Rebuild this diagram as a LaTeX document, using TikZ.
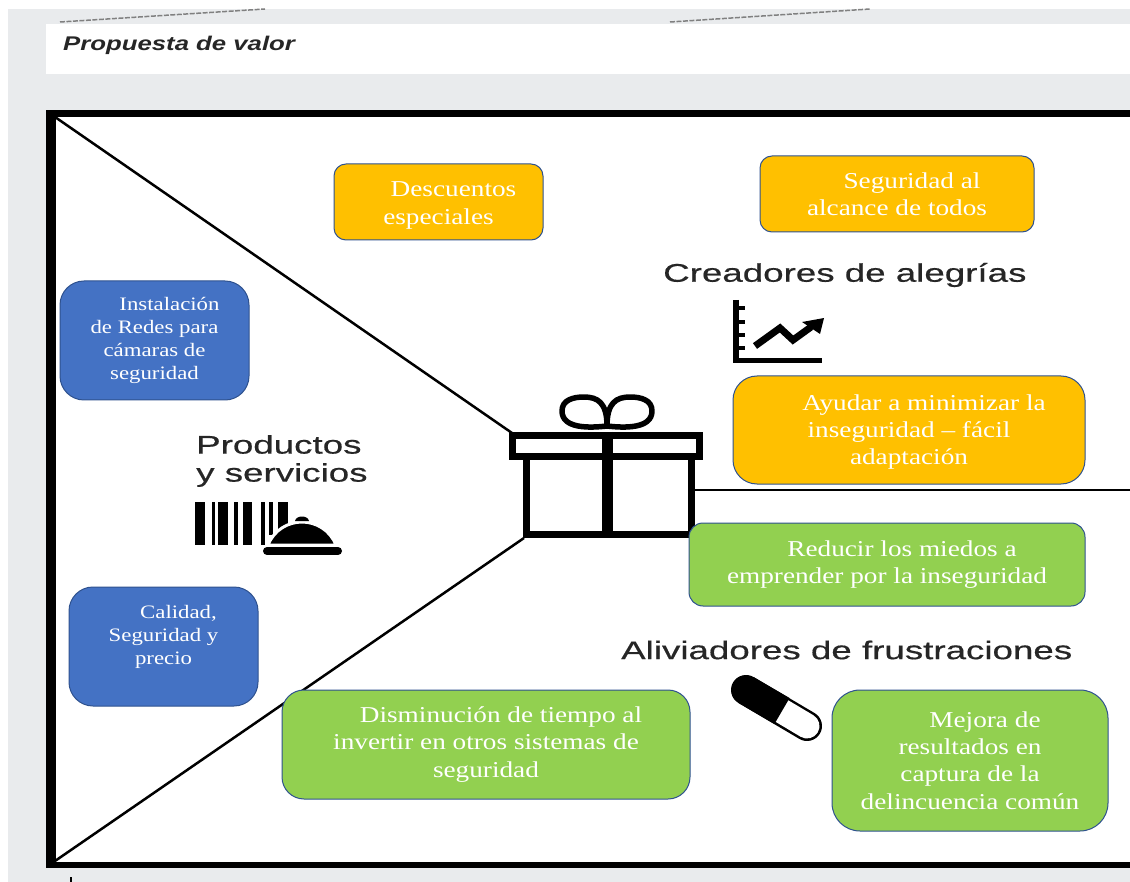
\documentclass[tikz,border=0pt]{standalone}
\usepackage{fontspec}
\usepackage{xcolor}
\setmainfont[FakeStretch=1.2]{Liberation Serif}
\newfontfamily\titlefont[FakeStretch=1.44,FakeBold=0.5]{Liberation Sans}
\newfontfamily\headfont[FakeStretch=1.3]{Liberation Sans}
\definecolor{pagegrey}{HTML}{E9EBED}
\definecolor{orangebox}{HTML}{FFC000}
\definecolor{bluebox}{HTML}{4472C4}
\definecolor{greenbox}{HTML}{92D050}
\definecolor{boxline}{HTML}{2F528F}
\definecolor{titleink}{HTML}{262626}
\newcommand{\ind}{\hspace*{30pt}}
\tikzset{
  card/.style={draw=boxline, line width=1pt, text=white, align=center, inner sep=0pt,
    font=\fontsize{22.7}{27.4}\selectfont},
  orangecard/.style={card, fill=orangebox},
  greencard/.style={card, fill=greenbox},
  bluecard/.style={card, fill=bluebox, rounded corners=24pt,
    minimum width=189pt, minimum height=119pt, font=\fontsize{19}{23}\selectfont},
  caption/.style={anchor=west, inner sep=0pt, text=titleink, align=left,
    font=\titlefont\fontsize{25.5}{28}\selectfont},
  thinline/.style={black, line width=2.5pt},
  giftline/.style={black, line width=7pt},
  dashline/.style={gray, line width=1.5pt, dash pattern=on 5pt off 1.5pt}
}
\begin{document}
\begin{tikzpicture}[x=1pt,y=-1pt]
\useasboundingbox (0,0) rectangle (1130,882);
\fill[white] (0,0) rectangle (1130,882);
\fill[pagegrey] (8,9) rectangle (1130,882);
\draw[dashline] (60,22) -- (265,9);
\draw[dashline] (670,22) -- (870,9);
\fill[white] (46,24) rectangle (1130,74);
\node[anchor=west, inner sep=0pt, text=titleink, font=\headfont\bfseries\itshape\fontsize{19.8}{22}\selectfont]
    (title) at (63,45) {Propuesta de valor};

\fill[white] (50,114) rectangle (1130,864);
\fill[black] (46,110) rectangle (1130,117.5);
\fill[black] (46,110) rectangle (56,868);
\fill[black] (46,861.5) rectangle (1130,868);
\draw[black, line width=1.5pt] (71,877) -- (71,882);

\coordinate (topcorner) at (55,117);
\coordinate (botcorner) at (55,861);
\coordinate (giftlid) at (512,433);
\coordinate (giftbase) at (524,538);
\coordinate (giftside) at (692,490);
\coordinate (rightend) at (1130,490);
\draw[thinline] (topcorner) -- (giftlid);
\draw[thinline] (botcorner) -- (giftbase);
\draw[thinline] (giftside) -- (rightend);

\draw[giftline] (526,456) -- (526,534) -- (691,534) -- (691,456);
\draw[giftline] (512.5,435.5) rectangle (699.5,456);
\draw[black, line width=11pt] (607.5,432) -- (607.5,537);
\draw[black, line width=5.5pt, line join=round] (607,426)
    .. controls (590,428) and (562,429) .. (562,411)
    .. controls (562,400) and (573,397) .. (584,397)
    .. controls (598,397) and (607,403) .. (607,426)
    .. controls (607,403) and (616,397) .. (630,397)
    .. controls (641,397) and (652,400) .. (652,411)
    .. controls (652,429) and (624,428) .. (607,426);

\node[caption] (creadores) at (663,275) {Creadores de alegrías};
\node[caption] (productos) at (196,461) {Productos\\y servicios};
\node[caption] (aliviadores) at (621,650) {Aliviadores de frustraciones};

\draw[black, line width=5.5pt] (736,300) -- (736,360.5) -- (822,360.5);
\foreach \y in {308,322,335,348}
  \draw[black, line width=4pt] (736,\y) -- (745,\y);
\draw[black, line width=7pt, line join=miter] (755,346) -- (780,328) -- (793,340) -- (811,327);
\fill[black] (824,318) -- (802,322) -- (820,334) -- cycle;

\fill[black] (195,502) rectangle (205,545);
\fill[black] (212,502) rectangle (215,545);
\fill[black] (218,502) rectangle (228,545);
\fill[black] (234,502) rectangle (238,545);
\fill[black] (243,502) rectangle (252,545);
\fill[black] (261,502) rectangle (265,545);
\fill[black] (269,502) rectangle (273,535);
\fill[black] (278,502) rectangle (288,530);
\fill[black, draw=white, line width=3pt] (268,545) .. controls (274,530) and (288,522) .. (302,522)
    .. controls (316,522) and (330,530) .. (336,545) -- cycle;
\fill[black] (295,521) .. controls (296,515) and (308,515) .. (309,521) -- cycle;
\draw[black, line width=8pt, line cap=round] (267,551) -- (338,551);

\draw[black, line width=30pt, line cap=round] (746,690) -- (807,726);
\draw[white, line width=25pt, line cap=round] (760,698) -- (807,726);
\draw[black, line width=30pt] (746,690) -- (782,711);

\node[orangecard, rounded corners=12pt, minimum width=209pt, minimum height=76pt]
    (descuentos) at (438.5,202) {\rule{0pt}{22pt}\ind Descuentos\\especiales};
\node[orangecard, rounded corners=12pt, minimum width=274pt, minimum height=76pt]
    (alcance) at (897,194) {\ind Seguridad al\\alcance de todos};
\node[orangecard, rounded corners=24pt, minimum width=352pt, minimum height=108pt]
    (ayudar) at (909,430) {\rule{0pt}{20pt}\ind Ayudar a minimizar la\\inseguridad – fácil\\adaptación};
\node[greencard, rounded corners=14pt, minimum width=396pt, minimum height=83pt]
    (reducir) at (887,564.5) {\ind Reducir los miedos a\\emprender por la inseguridad};
\node[greencard, rounded corners=22pt, minimum width=408pt, minimum height=109pt]
    (disminucion) at (486,744.5) {\ind Disminución de tiempo al\\invertir en otros sistemas de\\seguridad};
\node[greencard, rounded corners=28pt, minimum width=276pt, minimum height=141pt]
    (mejora) at (970,760.5) {\ind Mejora de\\resultados en\\captura de la\\delincuencia común};
\node[bluecard] (instalacion) at (154.5,340.5) {\ind Instalación\\de Redes para\\cámaras de\\seguridad};
\node[bluecard] (calidad) at (163.5,646.5) {\ind Calidad,\\Seguridad y\\precio\\\mbox{}};
\end{tikzpicture}
\end{document}
